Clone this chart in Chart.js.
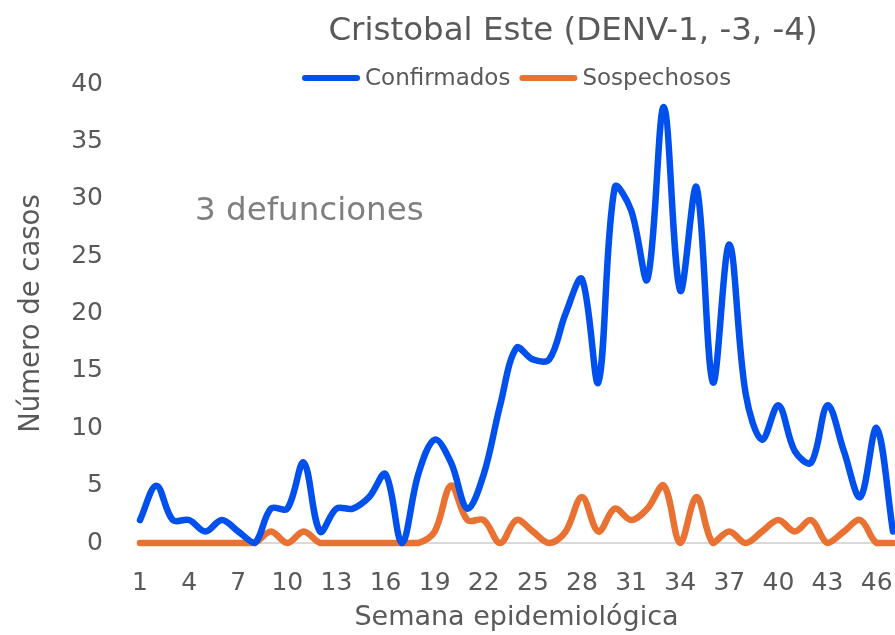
<!DOCTYPE html>
<html>
<head>
<meta charset="utf-8">
<script src="https://cdn.jsdelivr.net/npm/chart.js@4"></script>
<style>
  html, body { margin: 0; padding: 0; background: #fff; overflow: hidden; width: 895px; height: 635px; }
  #grafico { display: block; }
</style>
</head>
<body>
<canvas id="grafico" width="910" height="635"></canvas>
<script>
// semanas epidemiologicas y casos
const semanas = ['1','2','3','4','5','6','7','8','9','10','11','12','13','14','15','16','17','18','19','20',
  '21','22','23','24','25','26','27','28','29','30','31','32','33','34','35','36','37','38','39','40',
  '41','42','43','44','45','46','47'];
const confirmados = [2,5,2,2,1,2,1,0,3,3,7,1,3,3,4,6,0,6,9,7,
  3,6,12,17,16,16,20,23,14,31,29,23,38,22,31,14,26,13,9,12,
  8,7,12,8,4,10,1];
const sospechosos = [0,0,0,0,0,0,0,0,1,0,1,0,0,0,0,0,0,0,1,5,
  2,2,0,2,1,0,1,4,1,3,2,3,5,0,4,0,1,0,1,2,
  1,2,0,1,2,0,0];
const ticksY = [0, 5, 10, 15, 20, 25, 30, 35, 40];

const titulo = 'Cristobal Este (DENV-1, -3, -4)';
const nota = '3 defunciones';
const colorTexto = '#595959';
const fuente = "'DejaVu Sans', sans-serif";

// titulo, leyenda y nota dibujados encima del area del grafico (como en Excel)
const textosExtra = {
  id: 'textosExtra',
  afterDraw(chart) {
    const ctx = chart.ctx;
    ctx.save();
    ctx.textBaseline = 'middle';
    // titulo
    ctx.fillStyle = colorTexto;
    ctx.font = `32.5px ${fuente}`;
    ctx.textAlign = 'center';
    ctx.fillText(titulo, 573, 32);
    // leyenda
    ctx.font = `23px ${fuente}`;
    ctx.textAlign = 'left';
    let x = 305;
    chart.data.datasets.forEach(ds => {
      ctx.strokeStyle = ds.borderColor; ctx.lineWidth = 6; ctx.lineCap = 'round';
      ctx.beginPath(); ctx.moveTo(x, 78); ctx.lineTo(x + 52, 78); ctx.stroke();
      x += 60;
      ctx.fillStyle = colorTexto;
      ctx.fillText(ds.label, x, 79);
      x += ctx.measureText(ds.label).width + 12;
    });
    // nota de defunciones
    ctx.fillStyle = '#7f7f7f';
    ctx.font = `32.5px ${fuente}`;
    ctx.fillText(nota, 195, 212);
    ctx.restore();
  }
};

const ctx = document.getElementById('grafico').getContext('2d');
const grafico = new Chart(ctx, {
  type: 'line',
  data: {
    labels: semanas,
    datasets: [
      {
        label: 'Confirmados',
        data: confirmados,
        borderColor: '#0050EE',
        backgroundColor: '#0050EE',
        borderWidth: 6.5,
        clip: 10
      },
      {
        label: 'Sospechosos',
        data: sospechosos,
        borderColor: '#E97132',
        backgroundColor: '#E97132',
        borderWidth: 6.5,
        clip: 10
      }
    ]
  },
  options: {
    responsive: false,
    animation: false,
    layout: { padding: { left: 0, right: 10, top: 84, bottom: 0 } },
    elements: {
      point: { radius: 0 },
      line: { tension: 0.35, borderCapStyle: 'round', borderJoinStyle: 'round', fill: false }
    },
    plugins: {
      legend: { display: false },
      title: { display: false },
      tooltip: { enabled: false }
    },
    scales: {
      x: {
        type: 'category',
        offset: false,
        grid: { display: false },
        border: { color: '#d9d9d9', width: 2 },
        ticks: {
          color: colorTexto,
          font: { family: fuente, size: 25 },
          autoSkip: false, maxRotation: 0, minRotation: 0, padding: 17,
          callback: (v, i) => i % 3 === 0 ? semanas[i] : ''
        },
        title: {
          display: true, text: 'Semana epidemiológica', color: colorTexto,
          font: { family: fuente, size: 27 }, padding: { top: -13.4, bottom: 1 }
        }
      },
      y: {
        min: 0, max: 40,
        afterBuildTicks: (eje) => { eje.ticks = ticksY.map(v => ({ value: v })); },
        grid: { display: false },
        border: { display: false },
        ticks: { color: colorTexto, font: { family: fuente, size: 25 }, padding: 29 },
        title: {
          display: true, text: 'Número de casos', color: colorTexto,
          font: { family: fuente, size: 27.5 }, padding: { top: 15.5, bottom: -6.3 }
        }
      }
    }
  },
  plugins: [textosExtra]
});
</script>
</body>
</html>
